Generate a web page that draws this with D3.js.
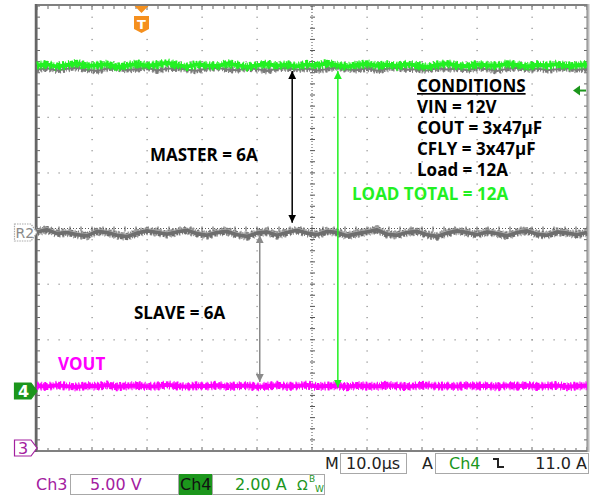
<!DOCTYPE html>
<html>
<head>
<meta charset="utf-8">
<script src="https://cdn.jsdelivr.net/npm/d3@7"></script>
<style>
  body { margin: 0; background: #fff; }
  svg { display: block; }
  .scope { font-family: "DejaVu Sans", sans-serif; font-size: 16px; }
  .note { font-family: "Open Sans", sans-serif; font-weight: bold; font-size: 17px; }
</style>
</head>
<body>
<svg id="chart" width="595" height="497"></svg>
<script>
// ---- data (10 us/div, 10 divisions) ----
const timeDomain = [0, 100]            // us across the screen
const ch4Pos = -2.92                   // ch4 ground marker, divisions
const ch3Pos = -3.95                   // ch3 ground marker, divisions
const ch4Scale = 2                     // A/div
const ch3Scale = 5                     // V/div
const trigLevel = 10.8                 // where the level arrow sits (A)
const trigTime = 19                    // us from left edge

// load total current (ch4, A)
const loadTotal = [11.70,11.74,11.66,11.72,11.78,11.68,11.71,11.75,11.64,11.70,11.76,11.69,11.73,11.80,11.71,11.66,11.74,11.70,11.68,11.77,11.72,11.65,11.71,11.75,11.69,11.73,11.67,11.74,11.70,11.78,11.71,11.66,11.72,11.76,11.69,11.73,11.68,11.75,11.70,11.64,11.72,11.77,11.70,11.67,11.74,11.71,11.69,11.76,11.72,11.66,11.73,11.70,11.75,11.68,11.71,11.74]
// grey trace hidden under the green one (A)
const underLoad = [11.56,11.60,11.52,11.58,11.62,11.55,11.50,11.59,11.61,11.54,11.57,11.63,11.52,11.58,11.60,11.55,11.51,11.59,11.62,11.56,11.53,11.60,11.57,11.50,11.58,11.61,11.55,11.59,11.52,11.57,11.63,11.56,11.54,11.60,11.51,11.58,11.62,11.55,11.57,11.52,11.60,11.56,11.59,11.53,11.61,11.57,11.50,11.58,11.62,11.55,11.59,11.53,11.57,11.60,11.54,11.58]
// reference R2 (master, A)
const refR2 = [5.72,5.80,5.66,5.70,5.62,5.58,5.74,5.70,5.60,5.55,5.68,5.76,5.70,5.64,5.72,5.78,5.66,5.60,5.70,5.74,5.62,5.56,5.68,5.72,5.60,5.70,5.78,5.68,5.62,5.74,5.70,5.58,5.66,5.72,5.80,5.64,5.60,5.70,5.74,5.62,5.56,5.68,5.76,5.70,5.62,5.72,5.66,5.58,5.70,5.76,5.64,5.60,5.72,5.68,5.62,5.70]
// VOUT (ch3, V)
const vout = [5.60,5.54,5.66,5.58,5.50,5.62,5.56,5.68,5.52,5.60,5.64,5.55,5.58,5.70,5.60,5.52,5.62,5.57,5.66,5.54,5.60,5.63,5.51,5.58,5.66,5.56,5.60,5.68,5.54,5.59,5.62,5.52,5.64,5.58,5.56,5.66,5.60,5.53,5.62,5.67,5.56,5.60,5.54,5.65,5.58,5.61,5.52,5.63,5.57,5.66,5.55,5.60,5.64,5.53,5.59,5.62]

const conditions = ['VIN = 12V', 'COUT = 3x47\u00b5F', 'CFLY = 3x47\u00b5F', 'Load = 12A']

// ---- scales ----
const X0 = 37, X1 = 587, Y0 = 6, Y1 = 451
const x = d3.scaleLinear().domain(timeDomain).range([X0, X1])
const yDiv = d3.scaleLinear().domain([-4, 4]).range([Y1, Y0])
const yCh4 = d3.scaleLinear().domain([(-4 - ch4Pos) * ch4Scale, (4 - ch4Pos) * ch4Scale]).range([Y1, Y0])
const yCh3 = d3.scaleLinear().domain([(-4 - ch3Pos) * ch3Scale, (4 - ch3Pos) * ch3Scale]).range([Y1, Y0])

const svg = d3.select('#chart')
const green = '#22f022', magenta = '#ff00ff', purple = '#a3209f', dgreen = '#1c961c'

// ---- graticule ----
const grid = svg.append('g')
const minorX = d3.range(0, 101, 2), minorY = d3.range(-4, 4.01, 0.2)
d3.range(10, 100, 10).filter(t => t != 50).forEach(t => {
    grid.selectAll(null).data(minorY).enter().append('rect')
        .attr('x', x(t) - 0.5).attr('y', d => yDiv(d) - 0.5).attr('width', 1.2).attr('height', 1.2).attr('fill', '#888')
})
d3.range(-3, 4, 1).filter(v => v != 0).forEach(v => {
    grid.selectAll(null).data(minorX).enter().append('rect')
        .attr('x', d => x(d) - 0.5).attr('y', yDiv(v) - 0.5).attr('width', 1.2).attr('height', 1.2).attr('fill', '#888')
})
// centre cross
grid.append('line').attr('x1', x(50)).attr('x2', x(50)).attr('y1', Y0).attr('y2', Y1)
    .attr('stroke', '#555').attr('stroke-dasharray', '1,2')
grid.append('line').attr('x1', X0).attr('x2', X1).attr('y1', yDiv(0)).attr('y2', yDiv(0))
    .attr('stroke', '#555').attr('stroke-dasharray', '1,2')
grid.selectAll(null).data(minorY).enter().append('line')
    .attr('x1', x(50) - 2).attr('x2', x(50) + 3).attr('y1', d => yDiv(d)).attr('y2', d => yDiv(d)).attr('stroke', '#555')
grid.selectAll(null).data(minorX).enter().append('line')
    .attr('y1', yDiv(0) - 2).attr('y2', yDiv(0) + 3).attr('x1', d => x(d)).attr('x2', d => x(d)).attr('stroke', '#555')
// edge ticks
grid.selectAll(null).data(minorX).enter().append('line')
    .attr('x1', d => x(d)).attr('x2', d => x(d)).attr('y1', Y0).attr('y2', d => Y0 + (d % 10 == 0 ? 4 : 3)).attr('stroke', '#666')
grid.selectAll(null).data(minorX).enter().append('line')
    .attr('x1', d => x(d)).attr('x2', d => x(d)).attr('y1', Y1).attr('y2', d => Y1 - (d % 10 == 0 ? 4 : 3)).attr('stroke', '#666')
grid.selectAll(null).data(minorY).enter().append('line')
    .attr('y1', d => yDiv(d)).attr('y2', d => yDiv(d)).attr('x1', X0).attr('x2', X0 + 3).attr('stroke', '#666')
grid.selectAll(null).data(minorY).enter().append('line')
    .attr('y1', d => yDiv(d)).attr('y2', d => yDiv(d)).attr('x1', X1).attr('x2', X1 - 3).attr('stroke', '#666')

// frame
svg.append('rect').attr('x', X0 - 0.5).attr('y', Y0 - 1).attr('width', X1 - X0 + 1).attr('height', Y1 - Y0 + 1)
    .attr('fill', 'none').attr('stroke', '#808080').attr('stroke-width', 2)
svg.append('line').attr('x1', X0 - 1).attr('x2', X0 - 1).attr('y1', Y0 - 2).attr('y2', Y1 + 1)
    .attr('stroke', '#666').attr('stroke-width', 2.5)
svg.append('line').attr('x1', X1 + 1.5).attr('x2', X1 + 1.5).attr('y1', Y0 - 2).attr('y2', Y1 + 1)
    .attr('stroke', '#bdbdbd').attr('stroke-width', 2)

// ---- traces ----
const tx = (d, i, arr) => x(timeDomain[0] + i * (timeDomain[1] - timeDomain[0]) / (arr.length - 1))
// solid core plus two dashed, wider strokes that give the phosphor "fuzz"
const trace = (data, ys, color, w, fuzz) => {
    const line = d3.line().x((d, i) => tx(d, i, data)).y(d => ys(d))
    const g = svg.append('g')
    g.append('path').datum(data).attr('d', line).attr('fill', 'none')
        .attr('stroke', fuzz || color).attr('stroke-width', w + 5).attr('stroke-dasharray', '1,3,1,2,2,4,1,5')
    g.append('path').datum(data).attr('d', line).attr('fill', 'none')
        .attr('stroke', color).attr('stroke-width', w + 3).attr('stroke-dasharray', '2,1,1,2,1,1,3,2')
    g.append('path').datum(data).attr('d', line).attr('fill', 'none')
        .attr('stroke', color).attr('stroke-width', w).attr('stroke-linejoin', 'round')
    return g
}
trace(underLoad, yCh4, '#7a7a7a', 2)
trace(loadTotal, yCh4, green, 4)
trace(refR2, yCh4, '#6e6e6e', 4, '#9a9a9a')
trace(refR2.map(d => d + 0.08), yCh4, '#b0b0b0', 0.8).selectAll('path:not(:last-child)').remove()
trace(vout, yCh3, magenta, 4)

// ---- annotation arrows ----
const defs = svg.append('defs')
const mk = (id, color) => defs.append('marker').attr('id', id).attr('viewBox', '0 0 10 10')
    .attr('refX', 10).attr('refY', 5).attr('markerWidth', 8).attr('markerHeight', 8)
    .attr('markerUnits', 'userSpaceOnUse').attr('orient', 'auto-start-reverse')
    .append('path').attr('d', 'M0,0 L10,5 L0,10 Z').attr('fill', color)
mk('aBlack', '#000'); mk('aGrey', '#8a8a8a'); mk('aGreen', green)
const arrow = (t, a, b, color, id) => svg.append('line')
    .attr('x1', x(t)).attr('x2', x(t)).attr('y1', yCh4(a)).attr('y2', yCh4(b))
    .attr('stroke', color).attr('stroke-width', 1.5)
    .attr('marker-start', `url(#${id})`).attr('marker-end', `url(#${id})`)
arrow(46.4, 11.5, 6.05, '#000', 'aBlack')
arrow(40.5, 5.6, 0.32, '#8a8a8a', 'aGrey')
arrow(54.7, 11.5, 0.12, green, 'aGreen')

// ---- annotation text ----
svg.append('text').attr('class', 'note').attr('x', 150).attr('y', 161).text('MASTER = 6A')
svg.append('text').attr('class', 'note').attr('x', 134).attr('y', 319).text('SLAVE = 6A')
svg.append('text').attr('class', 'note').attr('x', 352).attr('y', 200).attr('fill', green).text('LOAD TOTAL = 12A')
svg.append('text').attr('class', 'note').attr('x', 58).attr('y', 370).attr('fill', magenta).text('VOUT')
svg.append('text').attr('class', 'note').attr('x', 417).attr('y', 92).attr('text-decoration', 'underline').text('CONDITIONS')
svg.selectAll(null).data(conditions).enter().append('text').attr('class', 'note')
    .attr('x', 417).attr('y', (d, i) => 113 + i * 21).text(d => d)

// ---- channel markers ----
const tag = (yt, yb, fill, stroke) => svg.append('path')
    .attr('d', `M14.5,${yt} H31 L37,${(yt + yb) / 2} L31,${yb} H14.5 Z`)
    .attr('fill', fill).attr('stroke', stroke).attr('stroke-width', 1.2)
tag(224, 241, '#fff', '#aaa').attr('stroke-dasharray', '1.5,1')
svg.append('text').attr('class', 'scope').attr('x', 15.5).attr('y', 238).style('font-size', '14px').attr('fill', '#8a8a8a').text('R2')
tag(383, 399, dgreen, dgreen)
svg.append('text').attr('class', 'scope').attr('x', 18).attr('y', 397).style('font-size', '16px').attr('font-weight', 'bold').attr('fill', '#fff').text('4')
tag(440, 456, '#fff', purple)
svg.append('text').attr('class', 'scope').attr('x', 18).attr('y', 454).style('font-size', '16px').attr('fill', purple).text('3')

// trigger position
const tX = x(trigTime)
svg.append('path').attr('d', `M${tX - 7},${Y0} H${tX + 7} L${tX},${Y0 + 7} Z`).attr('fill', '#f5901e')
svg.append('path').attr('d', `M${tX - 7.5},16 H${tX + 7.5} V29 L${tX},33 L${tX - 7.5},29 Z`).attr('fill', '#f5901e')
svg.append('text').attr('x', tX).attr('y', 29).attr('text-anchor', 'middle').attr('fill', '#fff')
    .attr('font-family', 'DejaVu Sans').attr('font-weight', 'bold').attr('font-size', 13).text('T')
// trigger level
const lY = yCh4(trigLevel)
svg.append('line').attr('x1', X1 - 10).attr('x2', X1 - 1).attr('y1', lY).attr('y2', lY).attr('stroke', dgreen).attr('stroke-width', 2)
svg.append('path').attr('d', `M${X1 - 14},${lY} L${X1 - 7},${lY - 5} L${X1 - 7},${lY + 5} Z`).attr('fill', dgreen)

// ---- status bar ----
const box = (x0, y0, x1, y1, fill) => svg.append('rect').attr('x', x0 + 0.5).attr('y', y0 + 0.5)
    .attr('width', x1 - x0).attr('height', y1 - y0).attr('fill', fill || 'none').attr('stroke', '#a8a8a8')
const stext = (t, xx, yy, color, anchor) => svg.append('text').attr('class', 'scope').attr('x', xx).attr('y', yy)
    .attr('fill', color).attr('text-anchor', anchor || 'start').text(t)
stext('M', 325, 469, '#222')
box(340, 453, 406, 473)
stext('10.0\u00b5s', 346, 469, '#222')
stext('A', 422, 469, '#222')
box(435, 453, 588, 473)
stext('Ch4', 449, 469, dgreen)
svg.append('path').attr('d', 'M493,459 H498 V467 H504').attr('fill', 'none').attr('stroke', '#222').attr('stroke-width', 2)
stext('11.0 A', 587, 469, '#222', 'end')

stext('Ch3', 36, 490, purple)
box(70, 474, 178, 494)
stext('5.00 V', 90, 490, purple)
svg.append('rect').attr('x', 179).attr('y', 474).attr('width', 33).attr('height', 21).attr('fill', dgreen)
stext('Ch4', 180, 490, '#111')
box(212, 474, 324, 494)
stext('2.00 A', 235, 490, dgreen)
stext('\u03a9', 297, 490, dgreen).style('font-size', '14px')
stext('B', 309, 482, dgreen).style('font-size', '9px')
stext('W', 315, 492, dgreen).style('font-size', '9px')
</script>
</body>
</html>
